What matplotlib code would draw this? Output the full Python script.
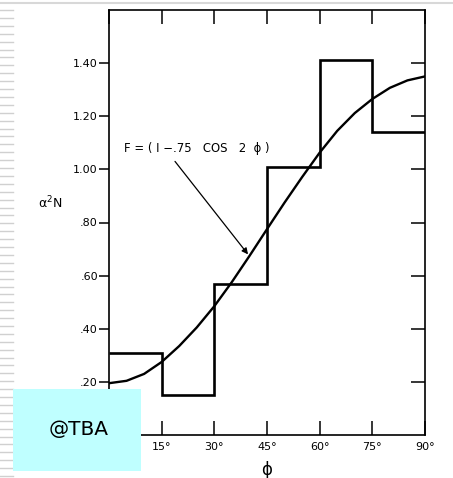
import numpy as np
import matplotlib
matplotlib.use('Agg')
import matplotlib.pyplot as plt
from matplotlib.lines import Line2D
from matplotlib.patches import Rectangle

# histogram: bin edges (deg) and heights
bin_edges = [0, 15, 30, 45, 60, 75, 90]
bin_heights = [0.31, 0.15, 0.57, 1.01, 1.41, 1.14]

# curve F = (1 - .75 cos 2phi)
curve_phi = [0, 5, 10, 15, 20, 25, 30, 35, 40, 45, 50, 55, 60, 65, 70, 75, 80, 85, 90]
curve_val = [0.195, 0.204, 0.230, 0.275, 0.335, 0.405, 0.485, 0.576, 0.674, 0.775,
             0.875, 0.971, 1.063, 1.145, 1.212, 1.265, 1.307, 1.335, 1.35]

x_ticks = [0, 15, 30, 45, 60, 75, 90]
x_ticklabels = ['0°', '15°', '30°', '45°', '60°', '75°', '90°']
y_ticks = [0.2, 0.4, 0.6, 0.8, 1.0, 1.2, 1.4]
y_ticklabels = ['.20', '.40', '.60', '.80', '1.00', '1.20', '1.40']

W, H = 453, 478
fig = plt.figure(figsize=(W / 100, H / 100), dpi=100)
fig.patch.set_facecolor('white')

# slide decorations: thin top rule and striped left margin
fig.add_artist(Line2D([0, 1], [1 - 3 / H, 1 - 3 / H], color='#d8d8d8', lw=1.5))
y = 10.0
while y < H:
    fig.add_artist(Line2D([0, 13 / W], [1 - y / H, 1 - y / H], color='#d0d0d0', lw=1.0))
    y += 7.9

ax = fig.add_axes([109 / W, 1 - 435 / H, 316 / W, 425 / H])
ax.set_xlim(0, 90)
ax.set_ylim(0, 1.6)

ax.stairs(bin_heights, bin_edges, baseline=None, color='black', lw=1.9)
ax.plot(curve_phi, curve_val, color='black', lw=1.7, solid_joinstyle='round')

ax.text(4.3, 1.08, 'F = ( I −.75   COS   2  ϕ )', ha='left', va='center', fontsize=8.4)
ax.annotate('', xy=(39.6, 0.68), xytext=(18.8, 1.03),
            arrowprops=dict(arrowstyle='-|>', lw=0.9, color='black', mutation_scale=9,
                            shrinkA=0, shrinkB=0))

for s in ax.spines.values():
    s.set_linewidth(1.2)

ax.set_xticks(x_ticks)
ax.set_xticklabels(x_ticklabels, fontsize=8)
ax.set_yticks(y_ticks)
ax.set_yticklabels(y_ticklabels, fontsize=8)
ax.tick_params(axis='x', direction='in', length=10, width=1.1, top=True, pad=5)
ax.tick_params(axis='y', direction='out', length=7, width=1.1, pad=1, right=False)

# right-hand inward ticks
ax2 = ax.twinx()
ax2.set_ylim(ax.get_ylim())
ax2.set_yticks(y_ticks)
ax2.set_yticklabels([])
ax2.tick_params(axis='y', direction='in', length=10, width=1.1)
for s in ax2.spines.values():
    s.set_visible(False)

fig.text(50 / W, 1 - 203 / H, 'α$^2$N', fontsize=9, ha='center', va='center')
fig.text(267 / W, 1 - 470 / H, 'ϕ', fontsize=12, ha='center', va='center')

# watermark box
fig.add_artist(Rectangle((13 / W, 1 - 471 / H), 128 / W, 82 / H,
                         transform=fig.transFigure, facecolor='#bfffff', edgecolor='none', zorder=10))
fig.text(79 / W, 1 - 430 / H, '@TBA', fontsize=14.5, ha='center', va='center', zorder=11)

fig.savefig('out.png', dpi=100)
